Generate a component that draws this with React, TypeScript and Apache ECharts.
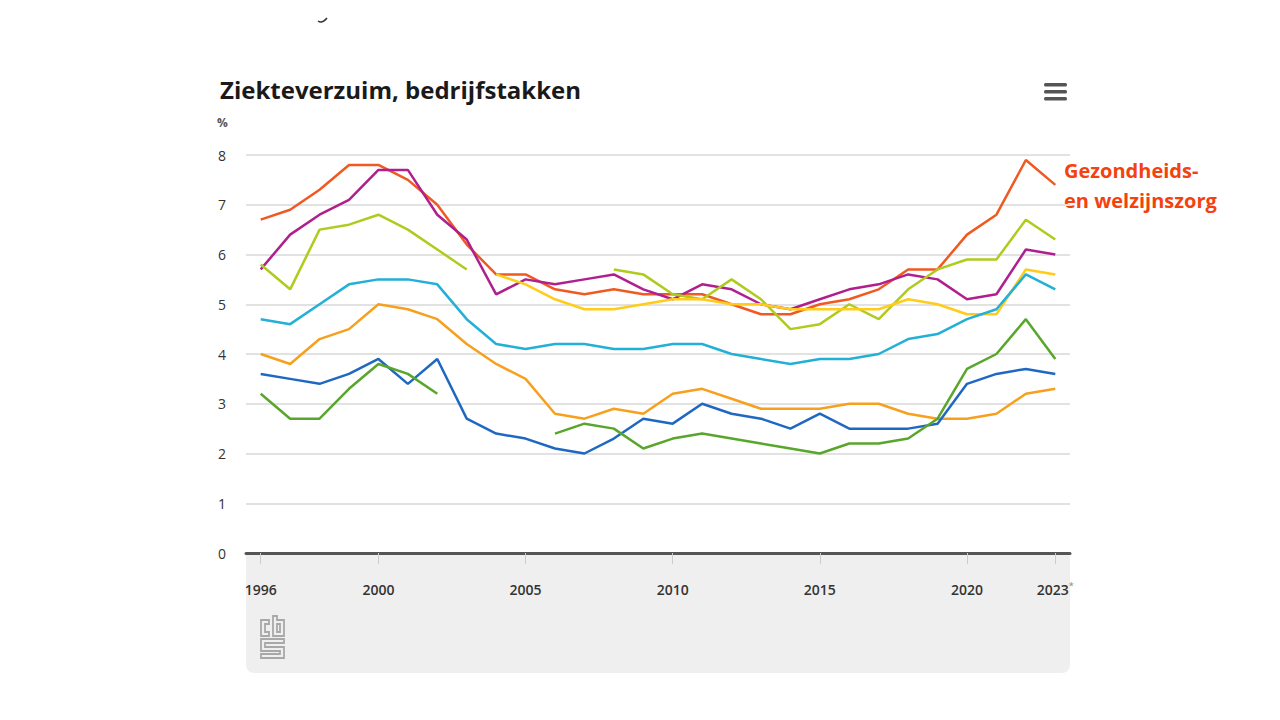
import React, { useEffect, useRef } from "react";
import * as echarts from "echarts";

const years = [
  "1996", "1997", "1998", "1999", "2000", "2001", "2002", "2003", "2004", "2005",
  "2006", "2007", "2008", "2009", "2010", "2011", "2012", "2013", "2014", "2015",
  "2016", "2017", "2018", "2019", "2020", "2021", "2022", "2023*",
];
const shownYears = ["1996", "2000", "2005", "2010", "2015", "2020", "2023*"];

const gezondheid = [6.7, 6.9, 7.3, 7.8, 7.8, 7.5, 7.0, 6.2, 5.6, 5.6, 5.3, 5.2, 5.3, 5.2, 5.2, 5.2, 5.0, 4.8, 4.8, 5.0, 5.1, 5.3, 5.7, 5.7, 6.4, 6.8, 7.9, 7.4];
const magenta = [5.7, 6.4, 6.8, 7.1, 7.7, 7.7, 6.8, 6.3, 5.2, 5.5, 5.4, 5.5, 5.6, 5.3, 5.1, 5.4, 5.3, 5.0, 4.9, 5.1, 5.3, 5.4, 5.6, 5.5, 5.1, 5.2, 6.1, 6.0];
const lime = [5.8, 5.3, 6.5, 6.6, 6.8, 6.5, 6.1, 5.7, null, null, null, null, 5.7, 5.6, 5.2, 5.1, 5.5, 5.1, 4.5, 4.6, 5.0, 4.7, 5.3, 5.7, 5.9, 5.9, 6.7, 6.3];
const yellow = [null, null, null, null, null, null, null, null, 5.6, 5.4, 5.1, 4.9, 4.9, 5.0, 5.1, 5.1, 5.0, 5.0, 4.9, 4.9, 4.9, 4.9, 5.1, 5.0, 4.8, 4.8, 5.7, 5.6];
const cyan = [4.7, 4.6, 5.0, 5.4, 5.5, 5.5, 5.4, 4.7, 4.2, 4.1, 4.2, 4.2, 4.1, 4.1, 4.2, 4.2, 4.0, 3.9, 3.8, 3.9, 3.9, 4.0, 4.3, 4.4, 4.7, 4.9, 5.6, 5.3];
const orange = [4.0, 3.8, 4.3, 4.5, 5.0, 4.9, 4.7, 4.2, 3.8, 3.5, 2.8, 2.7, 2.9, 2.8, 3.2, 3.3, 3.1, 2.9, 2.9, 2.9, 3.0, 3.0, 2.8, 2.7, 2.7, 2.8, 3.2, 3.3];
const blue = [3.6, 3.5, 3.4, 3.6, 3.9, 3.4, 3.9, 2.7, 2.4, 2.3, 2.1, 2.0, 2.3, 2.7, 2.6, 3.0, 2.8, 2.7, 2.5, 2.8, 2.5, 2.5, 2.5, 2.6, 3.4, 3.6, 3.7, 3.6];
const green = [3.2, 2.7, 2.7, 3.3, 3.8, 3.6, 3.2, null, null, null, 2.4, 2.6, 2.5, 2.1, 2.3, 2.4, 2.3, 2.2, 2.1, 2.0, 2.2, 2.2, 2.3, 2.7, 3.7, 4.0, 4.7, 3.9];

const yTicks = [0, 1, 2, 3, 4, 5, 6, 7, 8];

const seriesDefs = [
  { name: "Gezondheids- en welzijnszorg", data: gezondheid, color: "#f05a22" },
  { name: "Reeks 2", data: magenta, color: "#b01f8e" },
  { name: "Reeks 3", data: lime, color: "#afcb1e" },
  { name: "Reeks 4", data: yellow, color: "#ffcc1a" },
  { name: "Reeks 5", data: cyan, color: "#22b0d6" },
  { name: "Reeks 6", data: orange, color: "#f7a01e" },
  { name: "Reeks 7", data: blue, color: "#1f68c2" },
  { name: "Reeks 8", data: green, color: "#58a62c" },
];

echarts.graphic.registerShape(
  "cbslogo",
  echarts.graphic.extendPath(
    "M10 4 L2 4 L2 20 L10 20 L10 16 L6 16 L6 8 L10 8 Z M14 0 L18 0 L18 4 L25 4 L25 20 L14 20 Z M18 8 L18 16 L21 16 L21 8 Z M2 23 L25 23 L25 27 L6 27 L6 31 L25 31 L25 42 L2 42 L2 38 L21 38 L21 35 L2 35 Z",
    {}
  )
);

export default function App() {
  const ref = useRef<HTMLDivElement>(null);
  useEffect(() => {
    if (!ref.current) return;
    const chart = echarts.init(ref.current, null, { renderer: "svg" });
    const isShown = (idx: number) => shownYears.indexOf(years[idx]) >= 0;
    chart.setOption({
      animation: false,
      backgroundColor: "#ffffff",
      title: {
        text: "Ziekteverzuim, bedrijfstakken",
        left: 215,
        top: 72,
        textStyle: { fontFamily: "Open Sans", fontSize: 24, fontWeight: "bold", color: "#1a1a1a" },
      },
      grid: { left: 246, right: 210, top: 155, bottom: 167, containLabel: false },
      xAxis: {
        type: "category",
        data: years,
        boundaryGap: true,
        axisLine: { show: true, lineStyle: { color: "#555555", width: 3 } },
        axisTick: { show: true, alignWithLabel: true, length: 11, interval: (i: number) => isShown(i), lineStyle: { color: "#cccccc", width: 1 } },
        axisLabel: {
          interval: (i: number) => isShown(i),
          margin: 28,
          fontFamily: "Open Sans",
          fontSize: 14,
          fontWeight: 600,
          lineHeight: 16,
          color: "#333333",
          formatter: (v: string) => (v.endsWith("*") ? v.slice(0, -1) + "{s|*}" : v),
          rich: {
            s: { fontFamily: "Open Sans", fontSize: 9, lineHeight: 16, color: "#999999", verticalAlign: "top" },
          },
        },
        splitLine: { show: false },
      },
      yAxis: {
        type: "value",
        min: 0,
        max: 8,
        interval: 1,
        axisLine: { show: false },
        axisTick: { show: false },
        axisLabel: {
          margin: 20,
          fontFamily: "Open Sans",
          fontSize: 14,
          color: "#333333",
          formatter: (v: number) => (yTicks.indexOf(v) >= 0 ? String(v) : ""),
        },
        splitLine: { lineStyle: { color: "#e2e2e2", width: 2 } },
      },
      series: seriesDefs.map((s) => ({
        name: s.name,
        type: "line",
        data: s.data,
        showSymbol: false,
        symbol: "none",
        connectNulls: false,
        lineStyle: { color: s.color, width: 2.5 },
        itemStyle: { color: s.color },
        z: 3,
      })),
      graphic: [
        {
          type: "rect",
          z: -10,
          silent: true,
          shape: { x: 246, y: 553, width: 824, height: 120, r: [0, 0, 8, 8] },
          style: { fill: "#efefef" },
        },
        {
          type: "text",
          x: 217,
          y: 116,
          style: { text: "%", fontFamily: "Open Sans", fontSize: 12, fontWeight: "bold", fill: "#555555" },
        },
        { type: "rect", shape: { x: 1044, y: 83, width: 23, height: 3.5, r: 1.5 }, style: { fill: "#555555" } },
        { type: "rect", shape: { x: 1044, y: 90, width: 23, height: 3.5, r: 1.5 }, style: { fill: "#555555" } },
        { type: "rect", shape: { x: 1044, y: 97, width: 23, height: 3.5, r: 1.5 }, style: { fill: "#555555" } },
        {
          type: "text",
          x: 1064,
          y: 155,
          style: {
            text: "Gezondheids-\nen welzijnszorg",
            fontFamily: "Open Sans",
            fontSize: 20,
            fontWeight: "bold",
            lineHeight: 30,
            fill: "#f5410f",
          },
        },
        {
          type: "cbslogo",
          x: 259,
          y: 616,
          scaleX: 1,
          scaleY: 1,
          style: { fill: "none", stroke: "#a8a8a8", lineWidth: 1.8 },
        },
        {
          type: "bezierCurve",
          shape: { x1: 318, y1: 21, x2: 327, y2: 18, cpx1: 322, cpy1: 24 },
          style: { stroke: "#333333", lineWidth: 1.5, fill: "none" },
        },
      ],
    });
    return () => chart.dispose();
  }, []);
  return (
    <div
      ref={ref}
      style={{ position: "fixed", left: 0, top: 0, width: 1280, height: 720 }}
    />
  );
}
